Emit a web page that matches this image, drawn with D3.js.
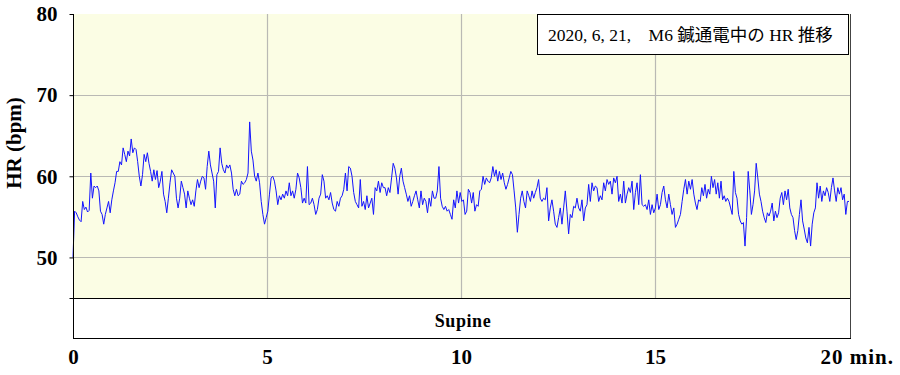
<!DOCTYPE html>
<html>
<head>
<meta charset="utf-8">
<script src="https://cdn.jsdelivr.net/npm/d3@7"></script>
<style>
  body { margin: 0; background: #fff; }
</style>
</head>
<body>
<svg id="chart" width="900" height="375"></svg>
<script>
// HR (bpm), one array per 4-minute stretch
const hr0to4 = [
  50.0, 55.7, 55.5, 55.0, 54.6, 54.4, 56.9, 55.9, 56.2, 55.6, 55.8, 60.4,
  57.3, 58.8, 58.6, 58.8, 58.2, 55.7, 55.3, 54.1, 55.3, 56.1, 56.9, 55.5,
  57.1, 58.2, 59.2, 60.6, 60.6, 61.8, 61.4, 63.5, 62.7, 61.8, 63.1, 62.5,
  64.6, 62.9, 63.5, 63.3, 61.8, 60.0, 58.8, 60.2, 62.7, 61.8, 62.9, 61.6,
  60.6, 59.4, 60.8, 59.6, 60.7, 58.6, 59.4, 60.6, 57.8, 56.9, 55.5, 57.3,
  59.2, 60.8, 60.4, 60.0, 57.3, 56.1, 57.3, 59.4, 58.6, 57.8, 56.1, 58.2,
  57.3, 56.5, 57.1, 56.3, 58.2, 59.6, 58.6, 59.4, 60.0, 59.8, 58.4, 61.2,
  63.1, 61.4, 60.4, 59.4, 56.1, 60.2, 60.6, 63.5, 61.6, 60.8, 60.4, 61.4
];
const hr4to8 = [
  61.0, 61.4, 60.4, 58.4, 57.6, 58.4, 57.6, 57.8, 59.4, 59.0, 59.2, 59.6,
  60.4, 66.7, 63.1, 62.0, 60.0, 59.4, 60.4, 59.2, 56.9, 55.3, 54.1, 54.9,
  55.7, 57.8, 59.8, 60.0, 59.4, 58.2, 56.5, 57.6, 57.1, 57.8, 57.3, 58.2,
  57.6, 59.2, 57.6, 58.2, 57.3, 58.4, 60.4, 59.8, 58.6, 56.7, 57.3, 56.7,
  61.2, 56.5, 56.7, 57.3, 56.5, 55.3, 55.9, 57.3, 57.8, 60.2, 59.4, 57.3,
  57.6, 57.1, 58.0, 56.7, 55.9, 55.7, 56.9, 56.3, 57.3, 57.6, 58.4, 60.4,
  58.2, 61.2, 61.0, 60.0, 58.0, 56.9, 56.5, 56.1, 59.6, 56.3, 56.9, 55.9,
  57.6, 56.1, 56.7, 57.3, 55.3, 58.6, 58.2, 59.4, 58.0, 59.2
];
const hr8to12 = [
  58.6, 58.6, 57.6, 58.6, 58.0, 59.8, 61.6, 61.0, 59.8, 57.8, 60.0, 61.0,
  59.4, 58.6, 57.8, 56.9, 57.6, 56.3, 56.9, 57.6, 58.2, 57.1, 56.1, 58.2,
  56.5, 57.3, 56.9, 55.5, 57.3, 56.3, 58.2, 57.3, 57.3, 58.2, 61.2, 57.3,
  56.3, 55.9, 56.3, 55.7, 55.9, 55.3, 54.7, 57.1, 56.1, 58.2, 56.7, 58.0,
  56.9, 57.1, 55.3, 55.7, 58.4, 58.0, 56.7, 58.0, 55.7, 56.5, 56.3, 58.2,
  58.4, 60.0, 59.0, 59.8, 59.4, 59.2, 59.8, 61.2, 60.0, 60.8, 59.4, 60.6,
  59.6, 60.4, 59.2, 58.4, 59.0, 59.8, 60.6, 60.2, 58.2, 56.1, 53.1, 55.3,
  57.3, 58.2, 56.9, 56.1, 58.2, 57.6, 56.9, 58.2, 57.3, 58.0, 58.6
];
const hr12to16 = [
  59.6, 57.3, 56.9, 57.3, 57.1, 58.6, 54.5, 56.1, 57.1, 55.7, 54.1, 53.7,
  54.9, 56.1, 54.1, 56.1, 58.2, 55.7, 52.9, 55.3, 54.9, 56.3, 56.1, 57.3,
  56.1, 55.7, 57.1, 54.5, 56.1, 56.5, 59.0, 56.9, 59.2, 58.2, 58.8, 58.6,
  56.9, 57.6, 57.1, 59.2, 58.2, 59.6, 59.0, 59.4, 57.8, 59.8, 59.2, 60.0,
  56.9, 57.8, 56.7, 59.4, 56.7, 57.8, 58.6, 58.0, 59.4, 55.9, 58.0, 59.2,
  56.5, 60.2, 56.5, 56.3, 56.5, 55.9, 57.1, 55.3, 56.5, 55.5, 56.1, 57.8,
  55.9, 56.5, 58.0, 58.8, 57.1, 56.1, 57.8, 56.5, 55.3, 56.1, 53.7, 54.1,
  54.7, 55.3, 56.9, 58.4, 59.6, 57.8, 59.4, 58.4, 59.6
];
const hr16to20 = [
  57.8, 56.7, 55.9, 57.1, 56.9, 58.6, 57.6, 59.0, 57.3, 58.4, 57.8, 60.0,
  58.6, 59.6, 57.8, 59.2, 57.3, 59.4, 57.1, 57.6, 56.9, 57.3, 56.9, 56.1,
  55.3, 60.6, 58.0, 57.3, 55.3, 54.5, 54.1, 54.3, 51.4, 54.9, 60.6, 58.2,
  55.3, 56.5, 58.2, 61.6, 59.8, 57.8, 56.9, 55.7, 54.9, 54.3, 55.5, 55.1,
  55.7, 56.7, 54.5, 55.7, 54.9, 55.5, 57.3, 58.0, 56.5, 58.2, 57.1, 58.4,
  56.1, 55.3, 54.9, 53.3, 52.2, 53.3, 55.3, 57.1, 54.5, 53.5, 52.4, 51.8,
  53.7, 51.4, 54.1, 55.5, 56.1, 59.2, 57.3, 58.8, 56.9, 58.2, 57.6, 58.6,
  58.0, 56.9, 58.6, 59.8, 58.2, 56.9, 58.6, 57.8, 58.6, 57.1, 57.8, 55.3,
  56.9
];
const segments = [hr0to4, hr4to8, hr8to12, hr12to16, hr16to20];
const segmentMinutes = 4;

const yTicks = [45, 50, 60, 70, 80];
const yLabels = [50, 60, 70, 80];
const yGrid = [50, 60, 70];
const xTicks = [0, 5, 10, 15, 20];
const xGrid = [5, 10, 15];
const yTitle = "HR (bpm)";
const bandLabel = "Supine";
const titleText = "2020, 6, 21,\u3000M6 鍼通電中の HR 推移";

// layout
const plot = { left: 73, right: 849, top: 14, bottom: 298 };
const bandBottom = 338;
const serif = "'Liberation Serif', 'DejaVu Serif', serif";

const x = d3.scaleLinear().domain([0, 20]).range([plot.left, plot.right]);
const y = d3.scaleLinear().domain([45, 80]).range([plot.bottom, plot.top]);

// flatten segments to (minute, bpm)
let series = [];
segments.forEach((seg, s) => {
  seg.forEach((v, i) => {
    series.push({ t: s * segmentMinutes + i * segmentMinutes / seg.length, v: v });
  });
});
series.push({ t: 20, v: hr16to20[hr16to20.length - 1] });

const svg = d3.select("#chart");

// yellow plot area
svg.append("rect")
  .attr("x", plot.left)
  .attr("y", plot.top)
  .attr("width", plot.right - plot.left + 1)
  .attr("height", plot.bottom - plot.top)
  .attr("fill", "#fbfde4");

// grid
svg.selectAll(".hgrid").data(yGrid).enter().append("line")
  .attr("x1", plot.left).attr("x2", plot.right + 1)
  .attr("y1", d => Math.round(y(d)) + 0.5).attr("y2", d => Math.round(y(d)) + 0.5)
  .attr("stroke", "#b9b9b4").attr("stroke-width", 1.2);

svg.selectAll(".vgrid").data(xGrid).enter().append("line")
  .attr("x1", d => Math.round(x(d)) + 0.5).attr("x2", d => Math.round(x(d)) + 0.5)
  .attr("y1", plot.top).attr("y2", plot.bottom)
  .attr("stroke", "#b9b9b4").attr("stroke-width", 1.2);

// HR trace
const line = d3.line()
  .x(d => x(d.t))
  .y(d => y(d.v));

svg.append("path")
  .datum(series)
  .attr("fill", "none")
  .attr("stroke", "#1414ff")
  .attr("stroke-width", 1)
  .attr("stroke-linejoin", "miter")
  .attr("d", line);

// posture band
svg.append("rect")
  .attr("x", plot.left + 0.5)
  .attr("y", plot.bottom + 0.5)
  .attr("width", plot.right + 1 - plot.left)
  .attr("height", bandBottom - plot.bottom)
  .attr("fill", "#fff")
  .attr("stroke", "#000")
  .attr("stroke-width", 1);

svg.append("text")
  .attr("x", (plot.left + plot.right) / 2 + 2)
  .attr("y", 327)
  .attr("text-anchor", "middle")
  .style("font", "bold 18px " + serif)
  .style("letter-spacing", "0.6px")
  .text(bandLabel);

// right border of plot
svg.append("line")
  .attr("x1", plot.right + 1.5).attr("x2", plot.right + 1.5)
  .attr("y1", plot.top).attr("y2", bandBottom)
  .attr("stroke", "#444").attr("stroke-width", 1);

// y axis
const yAxis = svg.append("g")
  .attr("transform", `translate(${plot.left + 0.5},0)`)
  .call(d3.axisLeft(y).tickValues(yTicks).tickSize(4).tickPadding(12)
    .tickFormat(d => yLabels.includes(d) ? d : ""));
yAxis.select(".domain").remove();
yAxis.selectAll("text").style("font", "bold 21px " + serif).attr("fill", "#000");

svg.append("line")
  .attr("x1", plot.left + 0.5).attr("x2", plot.left + 0.5)
  .attr("y1", plot.top).attr("y2", bandBottom + 1)
  .attr("stroke", "#000").attr("stroke-width", 1);

// x axis
const xAxis = svg.append("g")
  .attr("transform", `translate(0,${bandBottom + 0.5})`)
  .call(d3.axisBottom(x).tickValues(xTicks).tickSize(0).tickPadding(11)
    .tickFormat(d => d === 20 ? "20 min." : d));
xAxis.select(".domain").attr("stroke", "#000").attr("d", `M${plot.left},0H${plot.right + 2}`);
xAxis.selectAll("text").style("font", "bold 21px " + serif).attr("fill", "#000");
xAxis.selectAll(".tick").filter(d => d === 20).select("text")
  .attr("text-anchor", "start").attr("dx", -29)
  .style("letter-spacing", "1px");

// y axis title
svg.append("text")
  .attr("transform", "translate(21,143) rotate(-90)")
  .attr("text-anchor", "middle")
  .style("font", "bold 21px " + serif)
  .text(yTitle);

// title box
svg.append("rect")
  .attr("x", 537.5).attr("y", 14.5)
  .attr("width", 311).attr("height", 40)
  .attr("fill", "#fff").attr("stroke", "#000").attr("stroke-width", 1);

svg.append("text")
  .attr("x", 548).attr("y", 41)
  .style("font-size", "17.5px")
  .style("font-family", "'Liberation Serif', 'Noto Sans CJK JP', serif")
  .text(titleText);
</script>
</body>
</html>
